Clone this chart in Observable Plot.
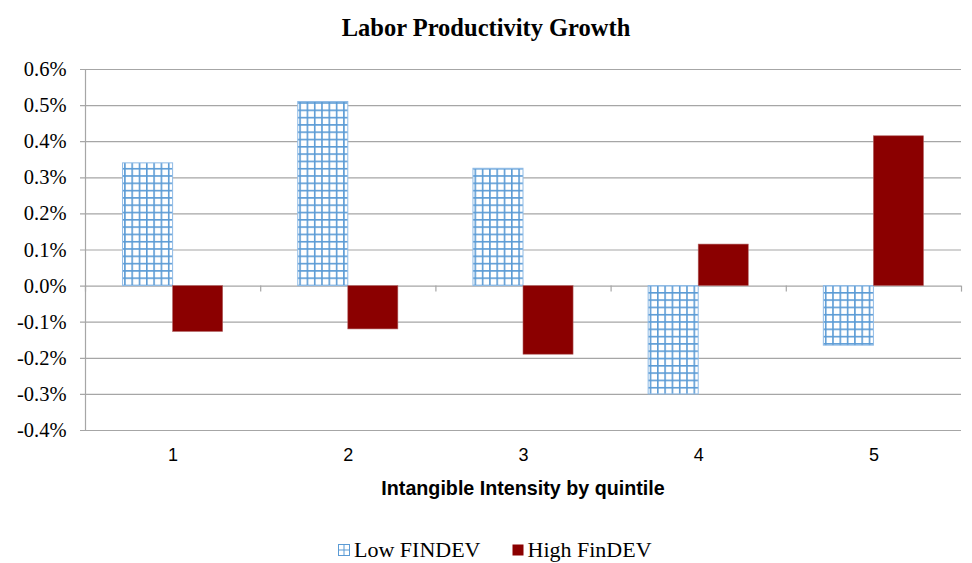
<!DOCTYPE html>
<html>
<head>
<meta charset="utf-8">
<script src="https://cdn.jsdelivr.net/npm/d3@7"></script>
<script src="https://cdn.jsdelivr.net/npm/@observablehq/plot@0.6"></script>
<style>
  body { margin: 0; background: #fff; }
  #wrap { position: relative; width: 972px; height: 563px; overflow: hidden; }
  #chart { position: absolute; left: 0; top: 0; }
  .title { position: absolute; left: 0; width: 972px; top: 14px; text-align: center;
           font: bold 24.5px "Liberation Serif", serif; color: #000; }
  .xtitle { position: absolute; left: 85px; width: 876px; top: 477px; text-align: center;
            font: bold 19.7px "Liberation Sans", sans-serif; color: #000; }
  .legend { position: absolute; left: 338px; top: 537px; display: flex; align-items: center;
            font: 22px "Liberation Serif", serif; color: #000; }
  .legend .item { display: flex; align-items: center; margin-right: 31px; }
  .legend svg { margin-right: 4px; }
</style>
</head>
<body>
<div id="wrap">
  <div id="chart"></div>
  <div class="title">Labor Productivity Growth</div>
  <div class="xtitle">Intangible Intensity by quintile</div>
  <div class="legend" id="legend"></div>
</div>
<script>
// ---- data ----
const quintiles = [1, 2, 3, 4, 5];
const seriesNames = ["Low FINDEV", "High FinDEV"];
const lowFindev = [0.34, 0.51, 0.325, -0.30, -0.165];   // percent
const highFindev = [-0.127, -0.12, -0.19, 0.115, 0.415]; // percent
const yTicks = [-0.4, -0.3, -0.2, -0.1, 0.0, 0.1, 0.2, 0.3, 0.4, 0.5, 0.6];

// ---- styles ----
const GRID = "#a6a6a6";
const DARKRED = "#8b0000";
const BLUE = "#5b9bd5";
const BAR = 0.2857; // bar width in category units

const rows = [];
quintiles.forEach((q, i) => {
  rows.push({q, series: seriesNames[0], value: lowFindev[i]});
  rows.push({q, series: seriesNames[1], value: highFindev[i]});
});
const lowRows = rows.filter(d => d.series === seriesNames[0]);
const highRows = rows.filter(d => d.series === seriesNames[1]);
const boundaries = quintiles.map(q => q - 0.5).concat([quintiles[quintiles.length - 1] + 0.5]);
const fmt = d => d.toFixed(1) + "%";

const chart = Plot.plot({
  width: 972,
  height: 563,
  marginTop: 69,
  marginBottom: 133,
  marginLeft: 85,
  marginRight: 11,
  x: {domain: [0.5, 5.5], axis: null},
  y: {domain: [-0.4, 0.6], axis: null},
  marks: [
    Plot.ruleY(yTicks, {y: d => d, stroke: GRID, strokeWidth: 1.2, insetLeft: -5}),
    Plot.ruleX([boundaries[0]], {x: d => d, stroke: GRID, strokeWidth: 1.2}),
    Plot.ruleX(boundaries, {x: d => d, y1: 0, y2: 0, insetBottom: -6, stroke: GRID, strokeWidth: 1.2}),
    Plot.rectY(lowRows, {x1: d => d.q - BAR, x2: d => d.q, y1: 0, y2: "value",
      fill: "url(#gridfill)", stroke: "#8fbbe6", strokeWidth: 1}),
    Plot.rectY(highRows, {x1: d => d.q, x2: d => d.q + BAR, y1: 0, y2: "value",
      fill: DARKRED, stroke: "#b06060", strokeWidth: 0.6}),
    Plot.text(yTicks, {x: 0.5, y: d => d, text: fmt, textAnchor: "end", dx: -19,
      fontFamily: "Liberation Serif", fontSize: 20.5, fill: "#000"}),
    Plot.text(quintiles, {x: d => d, frameAnchor: "bottom", dy: 30, text: d => String(d),
      fontFamily: "Liberation Sans", fontSize: 18, fill: "#000"})
  ]
});

// pattern definition for the hatched "Low FINDEV" bars
const svgNS = "http://www.w3.org/2000/svg";
const defs = document.createElementNS(svgNS, "defs");
defs.innerHTML = `
  <pattern id="gridfill" patternUnits="userSpaceOnUse" width="7.3" height="7.3">
    <rect width="7.3" height="7.3" fill="#fff"/>
    <path d="M0 0.8H7.3 M0.8 0V7.3" stroke="${BLUE}" stroke-width="1.6" fill="none"/>
  </pattern>`;
chart.insertBefore(defs, chart.firstChild);
document.getElementById("chart").appendChild(chart);

// legend
const legend = document.getElementById("legend");
const swatches = [
  `<svg width="12" height="12"><rect x="0.5" y="0.5" width="11" height="11" fill="#fff" stroke="${BLUE}"/><path d="M6 0.5V11.5 M0.5 6H11.5" stroke="${BLUE}"/></svg>`,
  `<svg width="12" height="12"><rect x="0.5" y="0.5" width="11" height="11" fill="${DARKRED}"/></svg>`
];
seriesNames.forEach((name, i) => {
  const item = document.createElement("div");
  item.className = "item";
  item.innerHTML = swatches[i] + `<span>${name}</span>`;
  legend.appendChild(item);
});
</script>
</body>
</html>
